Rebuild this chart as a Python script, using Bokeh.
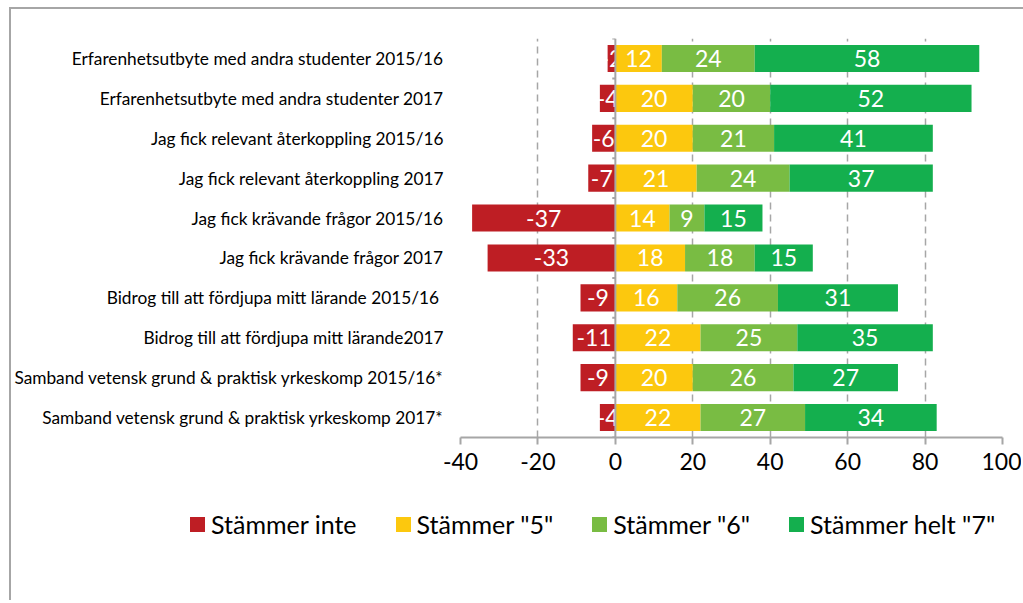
import html
from bokeh.plotting import figure
from bokeh.layouts import column
from bokeh.models import ColumnDataSource, Range1d, FixedTicker, Span, Div
from bokeh.embed import file_html
from bokeh.resources import INLINE
from bokeh.core.properties import value

categories = [
    "Erfarenhetsutbyte med andra studenter 2015/16",
    "Erfarenhetsutbyte med andra studenter 2017",
    "Jag fick relevant återkoppling 2015/16",
    "Jag fick relevant återkoppling 2017",
    "Jag fick krävande frågor 2015/16",
    "Jag fick krävande frågor 2017",
    "Bidrog till att fördjupa mitt lärande  2015/16",
    "Bidrog till att fördjupa mitt lärande2017",
    "Samband vetensk grund & praktisk yrkeskomp 2015/16*",
    "Samband vetensk grund & praktisk yrkeskomp 2017*",
]
stammer_inte = [-2, -4, -6, -7, -37, -33, -9, -11, -9, -4]
stammer_5 = [12, 20, 20, 21, 14, 18, 16, 22, 20, 22]
stammer_6 = [24, 20, 21, 24, 9, 18, 26, 25, 26, 27]
stammer_7 = [58, 52, 41, 37, 15, 15, 31, 35, 27, 34]
series_names = ['Stämmer inte', 'Stämmer "5"', 'Stämmer "6"', 'Stämmer helt "7"']
x_ticks = [-40, -20, 0, 20, 40, 60, 80, 100]
colors = ["#BE1E24", "#FCC80E", "#79BC43", "#14AF4E"]

FONT = "Lato"
n = len(categories)
ys = [n - 1 - i for i in range(n)]

W = 1010
H1 = 481
p = figure(width=W, height=H1, x_range=Range1d(-40, 100), y_range=Range1d(-0.5, n - 0.5),
           output_backend="svg", toolbar_location=None,
           min_border_left=449, min_border_right=W - 991, min_border_top=29,
           min_border_bottom=H1 - 428)
p.outline_line_color = None
p.background_fill_color = "white"
p.border_fill_color = "white"

# grid
p.ygrid.grid_line_color = None
p.xgrid.ticker = FixedTicker(ticks=[t for t in x_ticks if t != 0])
p.xgrid.grid_line_color = "#a6a6a6"
p.xgrid.grid_line_dash = "7 5"
p.xgrid.grid_line_width = 1.5

# bars
neg_src = ColumnDataSource(dict(y=ys, left=stammer_inte, right=[0] * n,
                                mid=[v / 2 for v in stammer_inte],
                                label=[str(v) for v in stammer_inte]))
p.hbar(y="y", left="left", right="right", height=0.68, source=neg_src,
       fill_color=colors[0], line_color=None)
p.text(x="mid", y="y", text="label", source=neg_src, text_align="center",
       text_baseline="middle", text_color="white", text_font=value(FONT),
       text_font_size="23px")

cum = [0] * n
for vals, col in zip([stammer_5, stammer_6, stammer_7], colors[1:]):
    left = list(cum)
    right = [a + b for a, b in zip(cum, vals)]
    src = ColumnDataSource(dict(y=ys, left=left, right=right,
                                mid=[(a + b) / 2 for a, b in zip(left, right)],
                                label=[str(v) for v in vals]))
    p.hbar(y="y", left="left", right="right", height=0.68, source=src,
           fill_color=col, line_color=None)
    p.text(x="mid", y="y", text="label", source=src, text_align="center",
           text_baseline="middle", text_color="white", text_font=value(FONT),
           text_font_size="23px")
    cum = right

# vertical axis at zero with ticks between categories
p.add_layout(Span(location=0, dimension="height", line_color="#a6a6a6", line_width=2))
bounds = [k - 0.5 for k in range(n + 1)]
p.segment(x0=[-0.8] * len(bounds), x1=[0] * len(bounds), y0=bounds, y1=bounds,
          line_color="#a6a6a6", line_width=2)

# y axis (category labels)
p.yaxis.ticker = FixedTicker(ticks=ys)
p.yaxis.major_label_overrides = {y: c for y, c in zip(ys, categories)}
p.yaxis.axis_line_color = None
p.yaxis.major_tick_line_color = None
p.yaxis.minor_tick_line_color = None
p.yaxis.major_tick_out = 0
p.yaxis.major_tick_in = 0
p.yaxis.minor_tick_out = 0
p.yaxis.major_label_standoff = 17
p.yaxis.major_label_text_font = FONT
p.yaxis.major_label_text_font_size = "17.3px"
p.yaxis.major_label_text_color = "black"

# x axis
p.xaxis.ticker = FixedTicker(ticks=x_ticks)
p.xaxis.major_label_overrides = {t: str(t) for t in x_ticks}
p.xaxis.axis_line_color = "#a6a6a6"
p.xaxis.axis_line_width = 2
p.xaxis.major_tick_line_color = "#a6a6a6"
p.xaxis.major_tick_line_width = 2
p.xaxis.major_tick_out = 7
p.xaxis.major_tick_in = 0
p.xaxis.minor_tick_line_color = None
p.xaxis.major_label_standoff = 8
p.xaxis.major_label_text_font = FONT
p.xaxis.major_label_text_font_size = "23px"
p.xaxis.major_label_text_color = "black"

# legend strip (HTML)
H2 = 100
items = []
for nm, col in zip(series_names, colors):
    items.append(
        f'<div style="display:flex;align-items:center;margin-right:39px;">'
        f'<span style="display:inline-block;width:15px;height:15px;background:{col};'
        f'margin-right:6px;"></span>'
        f'<span style="white-space:nowrap;font-family:{FONT};font-size:25px;line-height:1;'
        f'color:black;">{html.escape(nm)}</span></div>')
legend_div = Div(
    text='<div style="position:relative;width:%dpx;height:%dpx;">'
         '<div style="position:absolute;left:174px;top:0px;height:58px;display:flex;'
         'align-items:center;">%s</div></div>' % (W, H2, "".join(items)),
    width=W, height=H2)

layout = column(p, legend_div, spacing=0)
layout.styles = {"border-left": "2px solid #a6a6a6", "border-top": "2px solid #a6a6a6",
                 "margin-left": "9px", "margin-top": "7px"}

open("out.html", "w").write(file_html(layout, INLINE))
